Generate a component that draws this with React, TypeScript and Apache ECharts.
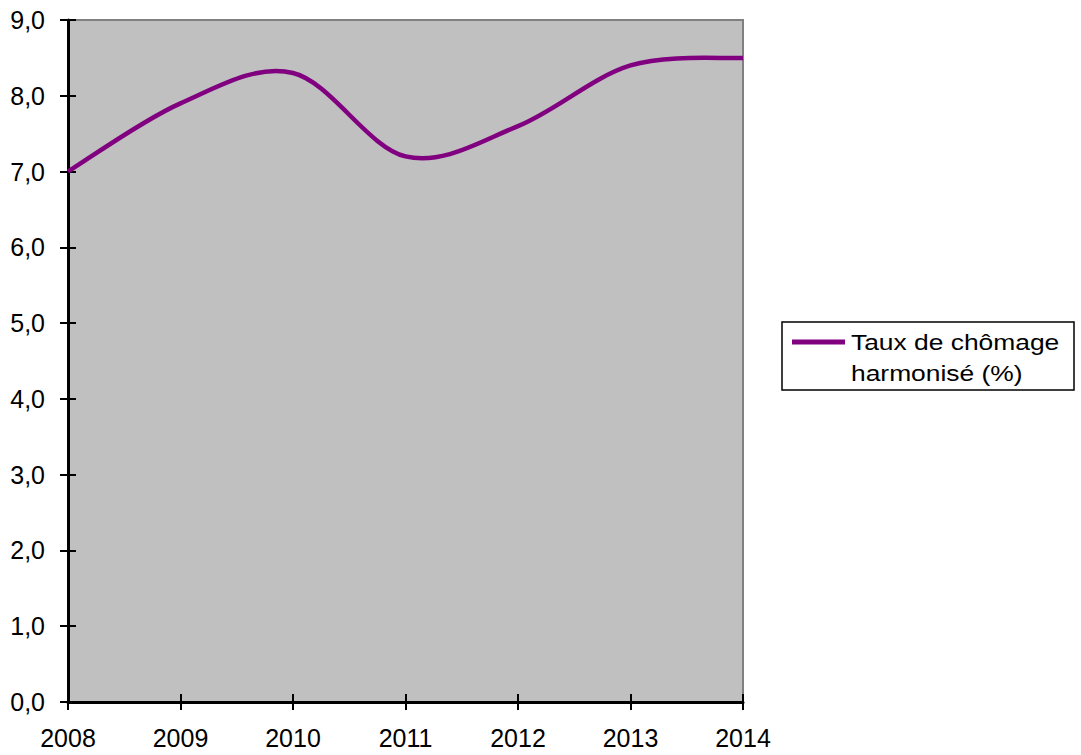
import React, { useEffect, useRef } from "react";
import * as echarts from "echarts";

const years = ["2008", "2009", "2010", "2011", "2012", "2013", "2014"];
const unemploymentRate = [7.0, 7.9, 8.3, 7.2, 7.6, 8.4, 8.5];
const seriesName = "Taux de chômage harmonisé (%)";
const legendLines = ["Taux de chômage", "harmonisé (%)"];
const yMin = 0;
const yMax = 9;
const yInterval = 1;

const FONT = "'Liberation Sans', Arial, sans-serif";
const LINE_COLOR = "#800080";

export default function App() {
  const ref = useRef<HTMLDivElement>(null);
  useEffect(() => {
    if (!ref.current) return;
    const chart = echarts.init(ref.current, undefined, { renderer: "svg" });
    const fmt = (v: number) => v.toFixed(1).replace(".", ",");

    // Catmull-Rom style smoothing (like spreadsheet "smoothed line"),
    // built from the axis-projected data points.
    const renderItem = (params: any, api: any) => {
      if (params.dataIndex !== 0) return null;
      const pts = unemploymentRate.map((v, i) => api.coord([i, v]));
      const n = pts.length;
      let d = `M${pts[0][0]},${pts[0][1]}`;
      for (let i = 0; i < n - 1; i++) {
        const p0 = pts[Math.max(i - 1, 0)];
        const p1 = pts[i];
        const p2 = pts[i + 1];
        const p3 = pts[Math.min(i + 2, n - 1)];
        const c1x = p1[0] + (p2[0] - p0[0]) / 6;
        const c1y = p1[1] + (p2[1] - p0[1]) / 6;
        const c2x = p2[0] - (p3[0] - p1[0]) / 6;
        const c2y = p2[1] - (p3[1] - p1[1]) / 6;
        d += ` C${c1x},${c1y} ${c2x},${c2y} ${p2[0]},${p2[1]}`;
      }
      return {
        type: "path",
        shape: { pathData: d },
        style: { fill: "none", stroke: LINE_COLOR, lineWidth: 4.5 },
        silent: true,
      };
    };

    chart.setOption({
      animation: false,
      backgroundColor: "#ffffff",
      grid: {
        left: 68,
        right: 338,
        top: 20,
        bottom: 53,
        show: true,
        backgroundColor: "#C0C0C0",
        borderColor: "#808080",
        borderWidth: 2,
      },
      xAxis: [
        {
          type: "category",
          data: years,
          boundaryGap: false,
          axisLine: { show: true, lineStyle: { color: "#000", width: 3 } },
          axisTick: { show: true, length: 8, lineStyle: { color: "#000", width: 2 } },
          axisLabel: { color: "#000", fontSize: 25, fontFamily: FONT, margin: 23 },
          splitLine: { show: false },
        },
        {
          type: "category",
          data: years,
          boundaryGap: false,
          position: "top",
          offset: -682,
          axisLine: { show: false },
          axisTick: { show: true, length: 8, lineStyle: { color: "#000", width: 2 } },
          axisLabel: { show: false },
          splitLine: { show: false },
        },
      ],
      yAxis: [
        {
          type: "value",
          min: yMin,
          max: yMax,
          interval: yInterval,
          axisLine: { show: true, lineStyle: { color: "#000", width: 3 } },
          axisTick: { show: true, length: 8, lineStyle: { color: "#000", width: 2 } },
          axisLabel: { color: "#000", fontSize: 25, fontFamily: FONT, margin: 23, formatter: fmt },
          splitLine: { show: false },
        },
        {
          type: "value",
          min: yMin,
          max: yMax,
          interval: yInterval,
          position: "right",
          offset: -675,
          axisLine: { show: false },
          axisTick: { show: true, length: 8, lineStyle: { color: "#000", width: 2 } },
          axisLabel: { show: false },
          splitLine: { show: false },
        },
      ],
      series: [
        {
          name: seriesName,
          type: "custom",
          xAxisIndex: 0,
          yAxisIndex: 0,
          data: unemploymentRate.map((v, i) => [i, v]),
          encode: { x: 0, y: 1 },
          renderItem,
          clip: false,
        },
      ],
      graphic: [
        {
          type: "rect",
          shape: { x: 782, y: 322, width: 292, height: 68 },
          style: { fill: "#ffffff", stroke: "#000000", lineWidth: 1.5 },
        },
        {
          type: "line",
          shape: { x1: 792, y1: 342, x2: 845, y2: 342 },
          style: { stroke: LINE_COLOR, lineWidth: 5 },
        },
        {
          type: "text",
          x: 851,
          y: 342,
          scaleX: 1.2,
          style: {
            text: legendLines[0],
            fontSize: 22,
            fontFamily: FONT,
            fill: "#000",
            verticalAlign: "middle",
          },
        },
        {
          type: "text",
          x: 851,
          y: 373,
          scaleX: 1.2,
          style: {
            text: legendLines[1],
            fontSize: 22,
            fontFamily: FONT,
            fill: "#000",
            verticalAlign: "middle",
          },
        },
      ],
    });
    return () => chart.dispose();
  }, []);
  return (
    <div
      ref={ref}
      style={{ position: "fixed", left: 0, top: 0, width: 1081, height: 755 }}
    />
  );
}
